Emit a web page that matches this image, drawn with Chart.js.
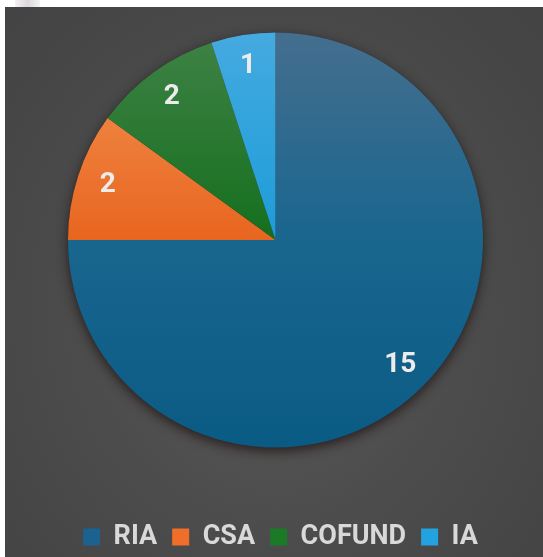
<!DOCTYPE html>
<html>
<head>
<meta charset="utf-8">
<script src="https://cdn.jsdelivr.net/npm/chart.js@4.4.0/dist/chart.umd.min.js"></script>
<style>
html, body { margin: 0; padding: 0; background: #fff; overflow: hidden; width: 543px; height: 557px; }
#tab { position: absolute; left: 15px; top: 0; width: 25px; height: 7px;
  background: linear-gradient(90deg, #f4f2f4, #dcd8dc, #f4f2f4); }
#wrap { position: absolute; left: 5px; top: 7px; width: 538px; height: 556px;
  background: radial-gradient(ellipse at 50% 55%, #5a5a5a 0%, #4b4b4b 55%, #434343 100%); }
</style>
</head>
<body>
<div id="tab"></div>
<div id="wrap"><canvas id="chart"></canvas></div>
<script>
const labels = ['RIA', 'CSA', 'COFUND', 'IA'];
const values = [15, 2, 2, 1];
const legendColors = ['#1b6290', '#ee6e2a', '#1a7a26', '#22a3e0'];
// top / middle / bottom of the pie, excel style gradient
const gradientStops = [
  ['#456e8e', '#19668f', '#0a5b84'],
  ['#f39555', '#e8651f', '#d85510'],
  ['#3f8246', '#156f1e', '#0f6418'],
  ['#45aae0', '#1c9cd8', '#1590cc']
];
const pieRadius = 207.5;

function sliceFill(ctx) {
  const chart = ctx.chart;
  const area = chart.chartArea;
  if (!area) return legendColors[ctx.dataIndex];
  const cy = (area.top + area.bottom) / 2;
  const g = chart.ctx.createLinearGradient(0, cy - pieRadius, 0, cy + pieRadius);
  const s = gradientStops[ctx.dataIndex];
  g.addColorStop(0, s[0]);
  g.addColorStop(0.5, s[1]);
  g.addColorStop(1, s[2]);
  return g;
}

const pieShadow = {
  id: 'pieShadow',
  beforeDatasetsDraw(chart) {
    const arc = chart.getDatasetMeta(0).data[0];
    if (!arc) return;
    const {x, y, outerRadius} = arc.getProps(['x', 'y', 'outerRadius'], true);
    const c = chart.ctx;
    c.save();
    c.shadowColor = 'rgba(25,10,10,0.7)';
    c.shadowBlur = 12;
    c.shadowOffsetY = 4;
    c.beginPath();
    c.arc(x, y, outerRadius, 0, Math.PI * 2);
    c.fillStyle = '#2a2a2a';
    c.fill();
    c.restore();
  }
};

const valueLabels = {
  id: 'valueLabels',
  afterDatasetsDraw(chart) {
    const c = chart.ctx;
    c.save();
    c.font = 'bold 28px Roboto';
    c.textAlign = 'center';
    c.textBaseline = 'middle';
    c.fillStyle = '#ececec';
    chart.getDatasetMeta(0).data.forEach((arc, i) => {
      const p = arc.getProps(['x', 'y', 'startAngle', 'endAngle', 'outerRadius'], true);
      const mid = (p.startAngle + p.endAngle) / 2;
      const rr = p.outerRadius * 0.85;
      c.fillText(String(values[i]), p.x + Math.cos(mid) * rr, p.y + Math.sin(mid) * rr);
    });
    c.restore();
  }
};

const legendShift = {
  id: 'legendShift',
  afterLayout(chart) {
    if (chart.legend) { chart.legend.left += 5; chart.legend.right += 5; }
  }
};

new Chart(document.getElementById('chart'), {
  type: 'pie',
  data: {
    labels: labels,
    datasets: [{
      data: values,
      backgroundColor: sliceFill,
      borderWidth: 0,
      hoverOffset: 0
    }]
  },
  options: {
    responsive: true,
    maintainAspectRatio: false,
    animation: false,
    radius: pieRadius,
    layout: { padding: { top: 0, bottom: 2.5, left: 3, right: 0 } },
    plugins: {
      tooltip: { enabled: false },
      legend: {
        position: 'bottom',
        title: {
          display: true, text: ' ', color: 'transparent',
          font: { size: 10, lineHeight: 1.2 },
          padding: { top: 23.5, bottom: 0 }
        },
        labels: {
          boxWidth: 17,
          boxHeight: 17,
          padding: 15,
          color: '#d9d9d9',
          font: { family: 'Roboto', size: 27, weight: 'bold' },
          generateLabels: () => labels.map((text, i) => ({
            text: text,
            fillStyle: legendColors[i],
            strokeStyle: legendColors[i],
            lineWidth: 0,
            fontColor: '#d9d9d9',
            hidden: false,
            index: i
          }))
        }
      }
    }
  },
  plugins: [pieShadow, valueLabels, legendShift]
});
</script>
</body>
</html>
